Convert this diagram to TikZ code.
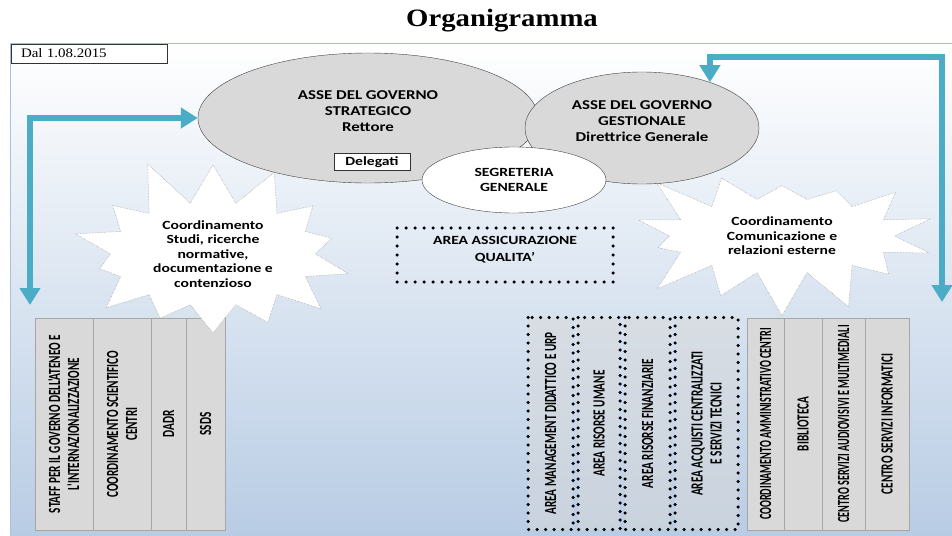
\documentclass[tikz,border=0pt]{standalone}
\usepackage{fontspec}
\setmainfont{Liberation Serif}
\newfontfamily\orgfont[FakeStretch=1.25]{Carlito}
\newfontfamily\colfont[FakeStretch=0.66]{Carlito}
\newfontfamily\narrowfont[FakeStretch=0.6]{Carlito}
\newfontfamily\titlefont[FakeStretch=1.15]{Liberation Serif}
\usetikzlibrary{shapes.geometric,shapes.symbols,arrows.meta}
\definecolor{bgblue}{HTML}{B8CCE4}
\definecolor{framecol}{HTML}{A9C0DA}
\definecolor{flowteal}{HTML}{4BACC6}
\definecolor{boxgray}{HTML}{D9D9D9}
\definecolor{edgegray}{HTML}{A6A6A6}

\begin{document}
\begin{tikzpicture}[x=1pt,y=-1pt,
  govell/.style={ellipse, draw=black!75, fill=boxgray, align=center, inner sep=0pt, font=\orgfont\bfseries\fontsize{13.5}{16}\selectfont},
  delbox/.style={draw=black!80, fill=white, minimum width=76pt, minimum height=17pt, inner sep=0pt, font=\orgfont\bfseries\fontsize{12.5}{15}\selectfont},
  datebox/.style={draw=black!80, fill=white, minimum width=156pt, minimum height=19pt, text width=136pt, inner xsep=10pt, inner ysep=0pt, align=left, font=\titlefont\fontsize{13}{15}\selectfont},
  burst/.style={starburst, draw=gray!80, densely dotted, line width=0.5pt, fill=white, align=center, font=\orgfont\bfseries\fontsize{12.5}{14.5}\selectfont},
  qualbox/.style={draw, line width=3.5pt, dash pattern=on 0pt off 9pt, line cap=round, align=center, font=\orgfont\bfseries\fontsize{12.5}{17}\selectfont},
  colbox/.style={rotate=90, draw=edgegray, fill=boxgray, minimum width=212pt, inner sep=0pt, align=center, font=\colfont\bfseries\fontsize{17}{19}\selectfont},
  dotcol/.style={rotate=90, draw, line width=3.5pt, dash pattern=on 0pt off 8.5pt, line cap=round, fill=boxgray, fill opacity=0.5, text opacity=1, minimum width=212pt, inner sep=0pt, align=center, font=\colfont\bfseries\fontsize{17}{19}\selectfont},
  flow/.style={draw=flowteal, line width=6pt, {Triangle[width=20pt,length=17pt]}-{Triangle[width=20pt,length=17pt]}}]
\useasboundingbox (0,0) rectangle (952,535);

% sfondo e titolo
\shade[top color=white, bottom color=bgblue] (10,44) rectangle (952,535);
\draw[framecol, line width=1pt] (10,535) -- (10,44) -- (952,44);
\node[font=\titlefont\bfseries\fontsize{25}{30}\selectfont] (title) at (502,21) {Organigramma};
\node[datebox] (dal) at (89,53.5) {Dal 1.08.2015};

% colonne di sinistra
\node[colbox, minimum height=58pt] (staff) at (64,424) {STAFF PER IL GOVERNO DELL'ATENEO E\\L'INTERNAZIONALIZZAZIONE};
\node[colbox, minimum height=58pt] (coordsci) at (122,424) {COORDINAMENTO SCIENTIFICO\\CENTRI};
\node[colbox, minimum height=35pt] (dadr) at (168.5,424) {DADR};
\node[colbox, minimum height=39pt] (ssds) at (205.5,424) {SSDS};

% colonne di destra
\node[dotcol, minimum height=45pt] (mgmt) at (550.5,423.5) {AREA MANAGEMENT DIDATTICO E URP};
\node[dotcol, minimum height=42pt] (umane) at (599,423.5) {AREA RISORSE UMANE};
\node[dotcol, minimum height=45pt] (finanz) at (647.5,423.5) {AREA RISORSE FINANZIARIE};
\node[dotcol, minimum height=63pt] (acquisti) at (706.5,423.5) {AREA ACQUISTI CENTRALIZZATI\\E SERVIZI TECNICI};
\node[colbox, minimum height=37pt, font=\narrowfont\bfseries\fontsize{17}{19}\selectfont] (coordamm) at (765.5,424) {COORDINAMENTO AMMINISTRATIVO CENTRI};
\node[colbox, minimum height=38pt] (biblio) at (803,424) {BIBLIOTECA};
\node[colbox, minimum height=43pt, font=\narrowfont\bfseries\fontsize{17}{19}\selectfont] (audiovis) at (843.5,424) {CENTRO SERVIZI AUDIOVISIVI E MULTIMEDIALI};
\node[colbox, minimum height=44pt] (informatici) at (887,424) {CENTRO SERVIZI INFORMATICI};

% coordinamenti
\node[burst, minimum width=305pt, minimum height=165pt, starburst points=14, starburst point height=50pt, random starburst=11] (studi) at (213,254) {Coordinamento\\Studi, ricerche\\normative,\\documentazione e\\contenzioso};
\node[burst, minimum width=325pt, minimum height=175pt, starburst points=14, starburst point height=50pt, random starburst=23] (comunic) at (782,236) {Coordinamento\\Comunicazione e\\relazioni esterne};

% assi del governo
\node[govell, minimum width=340pt, minimum height=130pt, text depth=13pt] (strat) at (368,118) {ASSE DEL GOVERNO\\STRATEGICO\\Rettore};
\node[govell, minimum width=234pt, minimum height=112pt, text depth=13pt] (gest) at (642,128) {ASSE DEL GOVERNO\\GESTIONALE\\Direttrice Generale};
\node[delbox] (deleg) at (372,162) {Delegati};
\node[govell, fill=white, minimum width=184pt, minimum height=66pt, font=\orgfont\bfseries\fontsize{12.5}{15}\selectfont] (segr) at (514,180) {SEGRETERIA\\GENERALE};
\node[qualbox, minimum width=216pt, minimum height=54pt, text depth=12pt] (qual) at (505,255) {AREA ASSICURAZIONE\\QUALITA’};

% frecce
\coordinate (staffend) at (30,305);
\coordinate (comend) at (942,302);
\coordinate (rcorner) at (942,57);
\draw[flow] (staffend) |- (strat.west);
\draw[flow] (comend) -- (rcorner) -| (gest.34);
\end{tikzpicture}
\end{document}
